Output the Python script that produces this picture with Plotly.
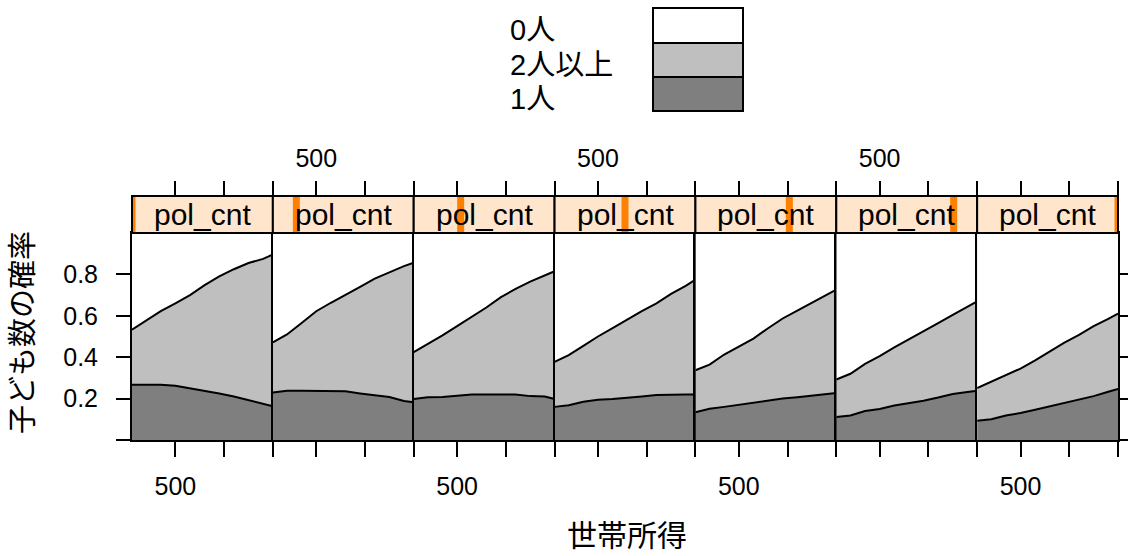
import numpy as np
import plotly.graph_objects as go

# ---------------- data ----------------
income = [55, 200, 350, 500, 650, 800, 950, 1100, 1250, 1400, 1500]
pol_cnt_levels = [0, 1, 2, 3, 4, 5, 6]
categories = ["1人", "2人以上", "0人"]
cat_colors = ["#7F7F7F", "#BFBFBF", "#FFFFFF"]

# cumulative probability: P(1人)
cum_one = [
    [0.267, 0.267, 0.267, 0.262, 0.250, 0.240, 0.225, 0.210, 0.193, 0.176, 0.163],
    [0.230, 0.238, 0.238, 0.238, 0.238, 0.235, 0.225, 0.217, 0.208, 0.188, 0.182],
    [0.198, 0.206, 0.208, 0.215, 0.220, 0.220, 0.220, 0.220, 0.212, 0.210, 0.198],
    [0.160, 0.168, 0.185, 0.194, 0.198, 0.203, 0.210, 0.217, 0.220, 0.220, 0.220],
    [0.134, 0.151, 0.160, 0.170, 0.178, 0.191, 0.200, 0.207, 0.215, 0.224, 0.227],
    [0.111, 0.118, 0.140, 0.150, 0.167, 0.178, 0.190, 0.205, 0.222, 0.232, 0.238],
    [0.093, 0.100, 0.118, 0.130, 0.146, 0.163, 0.180, 0.196, 0.212, 0.233, 0.247],
]
# cumulative probability: P(1人) + P(2人以上)
cum_two = [
    [0.533, 0.577, 0.623, 0.660, 0.700, 0.748, 0.790, 0.825, 0.855, 0.875, 0.896],
    [0.472, 0.510, 0.565, 0.622, 0.663, 0.700, 0.740, 0.780, 0.812, 0.840, 0.856],
    [0.424, 0.463, 0.505, 0.550, 0.593, 0.640, 0.690, 0.730, 0.765, 0.797, 0.815],
    [0.377, 0.410, 0.455, 0.500, 0.540, 0.583, 0.623, 0.660, 0.706, 0.745, 0.775],
    [0.337, 0.364, 0.413, 0.452, 0.490, 0.540, 0.587, 0.625, 0.663, 0.700, 0.727],
    [0.292, 0.320, 0.368, 0.405, 0.447, 0.485, 0.523, 0.565, 0.605, 0.645, 0.670],
    [0.251, 0.282, 0.313, 0.345, 0.385, 0.428, 0.470, 0.508, 0.550, 0.585, 0.611],
]
x_tickvals = [500, 1000, 1500]
y_tickvals = [0, 0.2, 0.4, 0.6, 0.8]
y_ticktext = ["", "0.2", "0.4", "0.6", "0.8"]

# ---------------- layout geometry ----------------
W, H = 1128, 556
FONT = "Liberation Sans, Arial, Noto Sans CJK JP, sans-serif"
n = len(pol_cnt_levels)
left_px, right_px = 132, 1118
pw = (right_px - left_px) / n
plot_top, plot_bot = 233, 440
strip_top = 196
px = lambda v: v / W
py = lambda v: 1 - v / H
x_range = [55, 1500]
TICKSZ = 25
LW = 2

fig = go.Figure()
shapes, annotations = [], []
layout = {}

for k in range(n):
    xa = f"x{k+1}" if k else "x"
    ya = f"y{k+1}" if k else "y"
    one = np.array(cum_one[k])
    two = np.array(cum_two[k]) - one
    zero = 1 - np.array(cum_two[k])
    for vals, name, col in zip([one, two, zero], categories, cat_colors):
        fig.add_trace(go.Scatter(
            x=income, y=vals, name=name, stackgroup=f"g{k}", xaxis=xa, yaxis=ya,
            mode="lines", line=dict(color="black", width=LW), fillcolor=col,
            showlegend=False, hoverinfo="skip"))
    # dummy trace for top axis
    fig.add_trace(go.Scatter(x=x_range, y=[0, 0], xaxis=f"x{k+1+n}", yaxis=ya,
                             mode="lines", line=dict(width=0), opacity=0,
                             showlegend=False, hoverinfo="skip"))
    x0 = left_px + k * pw
    x1 = x0 + pw
    dom = [px(x0), px(x1)]
    bottom_labels = (k % 2 == 0)
    layout[f"xaxis{k+1}" if k else "xaxis"] = dict(
        domain=dom, range=x_range, anchor=ya, showgrid=False, zeroline=False,
        showline=True, mirror=True, linecolor="black", linewidth=LW,
        ticks="outside", ticklen=15, tickwidth=LW, tickcolor="black",
        tickvals=x_tickvals,
        ticktext=["500" if bottom_labels else "", "", ""],
        ticklabelstandoff=8, automargin=False,
        tickfont=dict(size=TICKSZ, family=FONT, color="black"))
    layout[f"xaxis{k+1+n}"] = dict(
        range=x_range, overlaying=xa, anchor="free", position=py(strip_top),
        side="top", showgrid=False, zeroline=False, showline=False,
        ticks="outside", ticklen=15, tickwidth=LW, tickcolor="black",
        tickvals=x_tickvals,
        ticktext=["500" if not bottom_labels else "", "", ""],
        ticklabelstandoff=4, automargin=False,
        tickfont=dict(size=TICKSZ, family=FONT, color="black"))
    yax = dict(domain=[py(plot_bot), py(plot_top)], range=[0, 1], anchor=xa,
               showgrid=False, zeroline=False, showline=True, mirror=True,
               linecolor="black", linewidth=LW, automargin=False,
               tickfont=dict(size=TICKSZ, family=FONT, color="black"))
    if k == 0:
        yax.update(ticks="outside", ticklen=14, tickwidth=LW, tickcolor="black",
                   tickvals=y_tickvals, ticktext=y_ticktext, ticklabelstandoff=13)
    elif k == n - 1:
        yax.update(side="right", ticks="outside", ticklen=14, tickwidth=LW,
                   tickcolor="black", tickvals=y_tickvals, showticklabels=False)
    else:
        yax.update(ticks="", showticklabels=False)
    layout[f"yaxis{k+1}" if k else "yaxis"] = yax

    # strip
    shapes.append(dict(type="rect", xref="paper", yref="paper",
                       x0=px(x0), x1=px(x1), y0=py(plot_top), y1=py(strip_top),
                       fillcolor="#FFE5CC", line=dict(width=0), layer="above"))
    frac = (pol_cnt_levels[k] - pol_cnt_levels[0]) / (pol_cnt_levels[-1] - pol_cnt_levels[0])
    c = x0 + frac * pw
    shapes.append(dict(type="rect", xref="paper", yref="paper",
                       x0=px(max(x0, c - 3.5)), x1=px(min(x1, c + 3.5)),
                       y0=py(plot_top), y1=py(strip_top),
                       fillcolor="#FF7F00", line=dict(width=0), layer="above"))
    shapes.append(dict(type="rect", xref="paper", yref="paper",
                       x0=px(x0), x1=px(x1), y0=py(plot_top), y1=py(strip_top),
                       fillcolor="rgba(0,0,0,0)", line=dict(color="black", width=LW),
                       layer="above"))
    annotations.append(dict(text="pol_cnt", xref="paper", yref="paper",
                            x=px((x0 + x1) / 2), y=py((plot_top + strip_top) / 2),
                            showarrow=False, xanchor="center", yanchor="middle",
                            font=dict(size=30, family=FONT, color="black")))

# legend (drawn as key boxes + labels)
leg_x0, leg_x1 = 653, 743
leg_rows = [(8, 43), (43, 77), (77, 111)]
leg_items = [("0人", "#FFFFFF"), ("2人以上", "#BFBFBF"), ("1人", "#7F7F7F")]
for (y0, y1), (lab, col) in zip(leg_rows, leg_items):
    shapes.append(dict(type="rect", xref="paper", yref="paper",
                       x0=px(leg_x0), x1=px(leg_x1), y0=py(y1), y1=py(y0),
                       fillcolor=col, line=dict(color="black", width=LW)))
    annotations.append(dict(text=lab, xref="paper", yref="paper",
                            x=px(508), y=py((y0 + y1) / 2 + 5), showarrow=False,
                            xanchor="left", yanchor="middle",
                            font=dict(size=29, family=FONT, color="black")))

# axis titles
annotations.append(dict(text="世帯所得", xref="paper", yref="paper",
                        x=px(627), y=py(535), showarrow=False,
                        xanchor="center", yanchor="middle",
                        font=dict(size=30, family=FONT, color="black")))
annotations.append(dict(text="子ども数の確率", xref="paper", yref="paper",
                        x=px(23), y=py(333), showarrow=False, textangle=-90,
                        xanchor="center", yanchor="middle",
                        font=dict(size=29, family=FONT, color="black")))

fig.update_layout(**layout)
fig.update_layout(width=W, height=H,
                  margin=dict(l=0, r=0, t=0, b=0, autoexpand=False),
                  paper_bgcolor="white", plot_bgcolor="white",
                  shapes=shapes, annotations=annotations, showlegend=False,
                  font=dict(family=FONT, color="black"))
fig.write_html("out.html", config={"displayModeBar": False},
               post_script="document.body.style.margin='0';document.body.style.overflow='hidden';")
